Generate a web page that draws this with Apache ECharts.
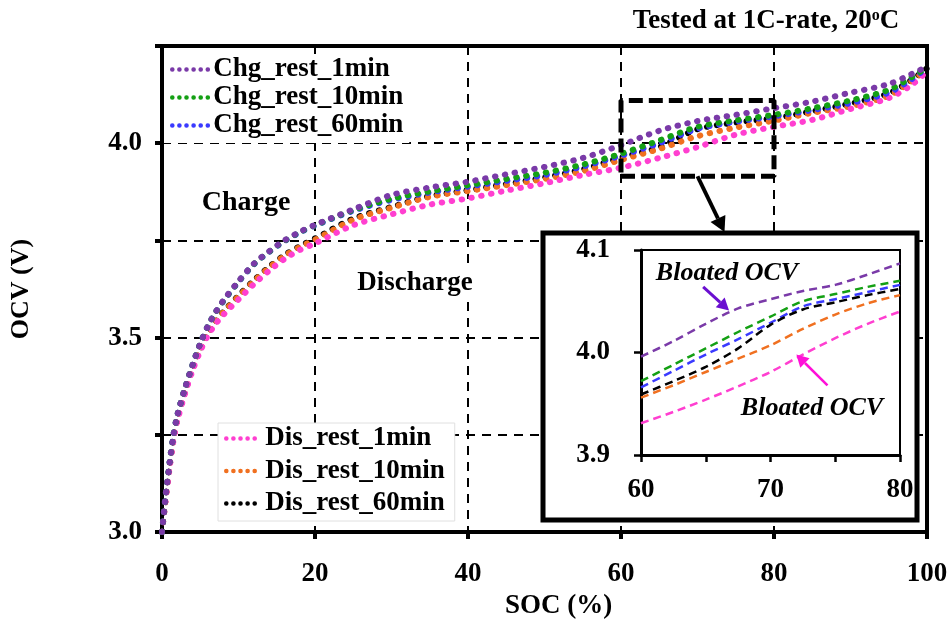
<!DOCTYPE html>
<html><head><meta charset="utf-8">
<script src="https://cdn.jsdelivr.net/npm/echarts@6/dist/echarts.min.js"></script>
<style>html,body{margin:0;padding:0;background:#fff}#c{width:950px;height:619px}</style>
</head><body><div id="c"></div>
<script>
// ---- data ----
const soc = [0, 0.5, 1, 1.5, 2, 3, 4, 5, 6, 7, 8, 10, 12, 14, 16, 18, 20, 25, 30, 35, 40, 45, 50, 55, 60, 65, 70, 75, 80, 85, 90, 95, 98, 100];
const chg1  = [3.00, 3.10, 3.18, 3.25, 3.30, 3.37, 3.43, 3.485, 3.53, 3.565, 3.595, 3.645, 3.69, 3.722, 3.75, 3.772, 3.79, 3.83, 3.867, 3.886, 3.901, 3.92, 3.939, 3.962, 3.995, 4.032, 4.057, 4.073, 4.09, 4.107, 4.13, 4.152, 4.178, 4.197];
const chg10 = [3.00, 3.10, 3.18, 3.25, 3.30, 3.37, 3.43, 3.485, 3.53, 3.565, 3.594, 3.644, 3.689, 3.721, 3.749, 3.771, 3.789, 3.828, 3.857, 3.876, 3.892, 3.908, 3.924, 3.945, 3.973, 4.007, 4.042, 4.059, 4.073, 4.09, 4.11, 4.137, 4.17, 4.195];
const chg60 = [3.00, 3.10, 3.18, 3.25, 3.30, 3.37, 3.43, 3.485, 3.53, 3.565, 3.593, 3.643, 3.688, 3.72, 3.748, 3.77, 3.788, 3.826, 3.854, 3.873, 3.888, 3.903, 3.918, 3.94, 3.968, 4.0, 4.037, 4.055, 4.069, 4.085, 4.103, 4.13, 4.165, 4.193];
const dis1  = [3.00, 3.085, 3.165, 3.235, 3.285, 3.355, 3.415, 3.465, 3.505, 3.535, 3.558, 3.598, 3.637, 3.672, 3.702, 3.725, 3.742, 3.789, 3.817, 3.842, 3.858, 3.878, 3.897, 3.918, 3.937, 3.962, 3.99, 4.022, 4.042, 4.06, 4.088, 4.116, 4.15, 4.185];
const dis10 = [3.00, 3.09, 3.17, 3.24, 3.29, 3.36, 3.42, 3.47, 3.51, 3.54, 3.565, 3.606, 3.645, 3.68, 3.71, 3.733, 3.752, 3.803, 3.834, 3.862, 3.877, 3.892, 3.908, 3.928, 3.957, 3.985, 4.018, 4.04, 4.058, 4.078, 4.095, 4.122, 4.16, 4.19];
const dis60 = [3.00, 3.09, 3.17, 3.24, 3.29, 3.36, 3.42, 3.47, 3.51, 3.54, 3.566, 3.608, 3.647, 3.682, 3.712, 3.735, 3.755, 3.806, 3.836, 3.864, 3.879, 3.895, 3.912, 3.933, 3.963, 3.99, 4.036, 4.053, 4.064, 4.082, 4.102, 4.128, 4.163, 4.193];

const insetSoc   = [60, 62.5, 65, 67.5, 70, 72.5, 75, 77.5, 80];
const inChg1  = [3.996, 4.011, 4.028, 4.043, 4.052, 4.060, 4.066, 4.076, 4.087];
const inChg10 = [3.972, 3.988, 4.004, 4.020, 4.035, 4.050, 4.057, 4.064, 4.070];
const inChg60 = [3.966, 3.982, 3.998, 4.013, 4.029, 4.045, 4.052, 4.059, 4.066];
const inDis1  = [3.931, 3.942, 3.954, 3.967, 3.981, 3.998, 4.014, 4.028, 4.040];
const inDis10 = [3.956, 3.968, 3.981, 3.994, 4.007, 4.023, 4.037, 4.048, 4.056];
const inDis60 = [3.959, 3.972, 3.986, 4.004, 4.027, 4.042, 4.049, 4.056, 4.062];

const names = ['Chg_rest_1min', 'Chg_rest_10min', 'Chg_rest_60min', 'Dis_rest_1min', 'Dis_rest_10min', 'Dis_rest_60min'];
const colors = ['#7a3aa8', '#14a014', '#3a3aff', '#ff3fd0', '#f07020', '#000000'];
const mainSets = [chg1, chg10, chg60, dis1, dis10, dis60];
const insetSets = [inChg1, inChg10, inChg60, inDis1, inDis10, inDis60];
const mainXTicks = [0, 20, 40, 60, 80, 100];
const mainYTicks = [3.0, 3.5, 4.0];
const zoomBoxX = [60, 80];
const zoomBoxY = [3.915, 4.11];

const FONT = '"Liberation Serif", "Times New Roman", serif';
const pair = (xs, ys) => xs.map((x, i) => [x, ys[i]]);

const mainSeries = mainSets.map((ys, i) => ({
  name: names[i], type: 'line', xAxisIndex: 0, yAxisIndex: 0,
  data: pair(soc, ys), smooth: 0.3, symbol: 'none', z: 3 + (5 - i) * 0.01,
  lineStyle: { color: colors[i], width: 6, type: [0.5, 9.5], cap: 'round' },
  itemStyle: { color: colors[i] }
}));
const insetSeries = insetSets.map((ys, i) => ({
  name: 'inset_' + names[i], type: 'line', xAxisIndex: 1, yAxisIndex: 1,
  data: pair(insetSoc, ys), smooth: 0.3, symbol: 'none', z: 12, silent: true,
  lineStyle: { color: colors[i], width: 2.5, type: [8, 5] }
}));
const boxSeries = {
  type: 'line', xAxisIndex: 0, yAxisIndex: 0, symbol: 'none', silent: true, z: 4,
  data: [[zoomBoxX[0], zoomBoxY[0]], [zoomBoxX[1], zoomBoxY[0]], [zoomBoxX[1], zoomBoxY[1]], [zoomBoxX[0], zoomBoxY[1]], [zoomBoxX[0], zoomBoxY[0]]],
  lineStyle: { color: '#000', width: 5, type: [14, 6] }
};

const labelStyle = { fontFamily: FONT, fontWeight: 'bold', fontSize: 27, color: '#000' };
const legendText = { fontFamily: FONT, fontWeight: 'bold', fontSize: 27, color: '#000' };
const legendLine = { width: 4.5, type: [0.1, 7], cap: 'round' };

const chart = echarts.init(document.getElementById('c'), null, { renderer: 'canvas' });
chart.setOption({
  animation: false,
  backgroundColor: '#fff',
  grid: [
    { left: 162, right: 23, top: 46, bottom: 87, show: true, borderColor: '#000', borderWidth: 4, z: 0, outerBoundsMode: 'none', containLabel: false },
    { left: 641, right: 50, top: 250, bottom: 164, show: true, borderColor: '#000', borderWidth: 2, backgroundColor: 'transparent', z: 11, outerBoundsMode: 'none', containLabel: false }
  ],
  xAxis: [
    { type: 'value', gridIndex: 0, min: 0, max: 100, interval: 20,
      name: 'SOC (%)', nameLocation: 'middle', nameGap: 59,
      nameTextStyle: { fontFamily: FONT, fontWeight: 'bold', fontSize: 27, color: '#000', padding: [0, 0, 0, 28] },
      axisLine: { lineStyle: { color: '#000', width: 4 } },
      axisTick: { show: true, length: 7, lineStyle: { color: '#000', width: 4 } },
      axisLabel: Object.assign({ margin: 29, formatter: v => mainXTicks.includes(v) ? String(v) : '' }, labelStyle),
      splitLine: { show: true, lineStyle: { color: '#000', width: 2, type: [9, 7] } } },
    { type: 'value', gridIndex: 1, min: 60, max: 80, interval: 5, z: 12,
      axisLine: { lineStyle: { color: '#000', width: 3 } },
      axisTick: { show: true, length: 7, lineStyle: { color: '#000', width: 2.5 } },
      axisLabel: Object.assign({ margin: 22, formatter: v => (v % 10 === 0 ? String(v) : '') }, labelStyle),
      splitLine: { show: false } }
  ],
  yAxis: [
    { type: 'value', gridIndex: 0, min: 3.0, max: 4.25, interval: 0.25,
      name: 'OCV (V)', nameLocation: 'middle', nameGap: 128, nameRotate: 90,
      nameTextStyle: { fontFamily: FONT, fontWeight: 'bold', fontSize: 26, color: '#000' },
      axisLine: { lineStyle: { color: '#000', width: 4 } },
      axisTick: { show: true, length: 7, lineStyle: { color: '#000', width: 4 } },
      axisLabel: Object.assign({ margin: 20, formatter: v => mainYTicks.some(t => Math.abs(t - v) < 1e-6) ? v.toFixed(1) : '' }, labelStyle),
      splitLine: { show: true, lineStyle: { color: '#000', width: 2, type: [9, 7] } } },
    { type: 'value', gridIndex: 1, min: 3.9, max: 4.1, interval: 0.1, z: 12,
      axisLine: { lineStyle: { color: '#000', width: 3 } },
      axisTick: { show: true, length: 7, lineStyle: { color: '#000', width: 2.5 } },
      axisLabel: Object.assign({ margin: 31, formatter: v => v.toFixed(1) }, labelStyle),
      splitLine: { show: false } }
  ],
  legend: [
    { data: names.slice(0, 3), orient: 'vertical', left: 164, top: 54, itemWidth: 36, itemHeight: 10, itemGap: 1,
      backgroundColor: '#fff', padding: [2, 6, 4, 6], z: 5, itemStyle: { opacity: 0 }, lineStyle: legendLine,
      textStyle: legendText },
    { data: names.slice(3), orient: 'vertical', left: 218, top: 423, itemWidth: 34, itemHeight: 10, itemGap: 5.5,
      backgroundColor: '#fff', borderColor: '#e0e0e0', borderWidth: 1, padding: [2, 10, 4, 6], z: 5, itemStyle: { opacity: 0 }, lineStyle: legendLine,
      textStyle: legendText }
  ],
  series: mainSeries.concat([boxSeries]).concat(insetSeries)
});

function drawAnnotations() {
  const p = (x, y) => chart.convertToPixel({ xAxisIndex: 0, yAxisIndex: 0 }, [x, y]);
  const q = (x, y) => chart.convertToPixel({ xAxisIndex: 1, yAxisIndex: 1 }, [x, y]);
  const bottomMid = p((zoomBoxX[0] + zoomBoxX[1]) / 2, zoomBoxY[0]);
  const arrowTip = [bottomMid[0] + 27, 232];
  const arr = (a, b, color, w, head) => {
    const ang = Math.atan2(b[1] - a[1], b[0] - a[0]);
    const h = head, s = head * 0.55;
    const base = [b[0] - h * Math.cos(ang), b[1] - h * Math.sin(ang)];
    return [
      { type: 'line', z: 20, shape: { x1: a[0], y1: a[1], x2: base[0], y2: base[1] }, style: { stroke: color, lineWidth: w } },
      { type: 'polygon', z: 20, shape: { points: [b,
        [base[0] + s * Math.sin(ang), base[1] - s * Math.cos(ang)],
        [base[0] - s * Math.sin(ang), base[1] + s * Math.cos(ang)]] }, style: { fill: color } }
    ];
  };
  const els = [
    { type: 'rect', z: 8, shape: { x: 543, y: 233, width: 374, height: 287 }, style: { fill: '#fff', stroke: '#000', lineWidth: 5 } },
    { type: 'text', z: 20, x: 246, y: 203, style: { text: 'Charge', font: 'bold 28px ' + FONT, fill: '#000', align: 'center', verticalAlign: 'middle' } },
    { type: 'text', z: 20, x: 415, y: 283, style: { text: 'Discharge', font: 'bold 27px ' + FONT, fill: '#000', align: 'center', verticalAlign: 'middle', backgroundColor: '#fff', padding: [2, 3] } },
    { type: 'text', z: 20, x: 766, y: 21, style: {
        text: 'Tested at 1C-rate, 20{sup|o}C', font: 'bold 27px ' + FONT, fill: '#000', align: 'center', verticalAlign: 'middle',
        rich: { sup: { font: 'bold 16px ' + FONT, fill: '#000', verticalAlign: 'top', padding: [0, 0, 11, 0] } } } },
    { type: 'text', z: 20, x: 727, y: 273, style: { text: 'Bloated OCV', font: 'italic bold 26px ' + FONT, fill: '#000', align: 'center', verticalAlign: 'middle' } },
    { type: 'text', z: 20, x: 812, y: 408, style: { text: 'Bloated OCV', font: 'italic bold 26px ' + FONT, fill: '#000', align: 'center', verticalAlign: 'middle' } }
  ].concat(arr(bottomMid, arrowTip, '#000', 4, 15))
   .concat(arr(q(64.8, 4.064), q(66.8, 4.041), '#6a0fd0', 3, 12))
   .concat(arr(q(74.4, 3.968), q(72.0, 3.998), '#ff10d8', 2.5, 12));
  chart.setOption({ graphic: { elements: els } });
}
drawAnnotations();
</script>
</body></html>
